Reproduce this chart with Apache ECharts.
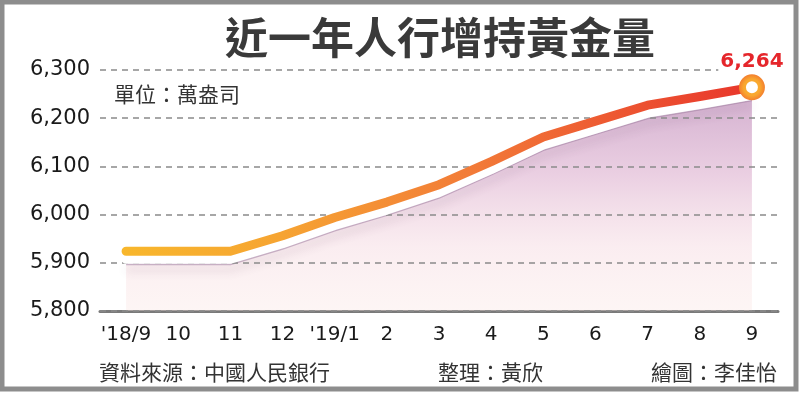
<!DOCTYPE html>
<html><head><meta charset="utf-8">
<script src="https://cdn.jsdelivr.net/npm/echarts@6/dist/echarts.min.js"></script>
<style>html,body{margin:0;padding:0;background:#fff}#c{width:800px;height:393px}</style>
</head><body><div id="c"></div>
<script>
// ---- data ----
const categories = ["'18/9","10","11","12","'19/1","2","3","4","5","6","7","8","9"];
const goldReserves = [5924,5924,5924,5956,5994,6026,6062,6110,6161,6194,6227,6245,6264];
const yMin = 5800, yMax = 6300, yStep = 100;
const titleText = '近一年人行增持黃金量';
const unitText = '單位：萬盎司';
const sourceText = '資料來源：中國人民銀行';
const editorText = '整理：黃欣';
const artistText = '繪圖：李佳怡';

// ---- styling ----
const areaShift = 27; // decorative downward offset of the shaded area (axis units)
const cjk = '"Noto Sans CJK TC","Noto Sans CJK SC",sans-serif';
const num = '"DejaVu Sans",sans-serif';
const last = goldReserves.length - 1;

const lineData = goldReserves.map((v, i) => i === last ? {
  value: v,
  symbol: 'circle',
  symbolSize: 19,
  itemStyle: {
    color: '#ffffff',
    borderWidth: 7,
    borderColor: new echarts.graphic.RadialGradient(0.5, 0.5, 0.7, [
      {offset: 0, color: '#f9ad2f'}, {offset: 0.45, color: '#f9a82f'},
      {offset: 0.72, color: '#f37e2e'}, {offset: 1, color: '#e94527'}
    ])
  },
  label: {
    show: true, position: 'top', distance: 2,
    formatter: p => p.value.toLocaleString('en-US'),
    color: '#e5262b', fontFamily: num, fontWeight: 'bold', fontSize: 20,
    backgroundColor: '#fff', padding: [1, 2]
  }
} : v);

const chart = echarts.init(document.getElementById('c'), null, {renderer: 'canvas'});
chart.setOption({
  animation: false,
  backgroundColor: '#fff',
  grid: {left: 100, right: 22, top: 70, bottom: 82},
  xAxis: {
    type: 'category', data: categories, boundaryGap: true,
    axisLine: {lineStyle: {color: '#7a7a7a', width: 3}},
    axisTick: {alignWithLabel: true, interval: 0, length: 7, lineStyle: {color: '#7a7a7a', width: 2}},
    axisLabel: {interval: 0, color: '#1a1a1a', fontFamily: num, fontSize: 20, margin: 14}
  },
  yAxis: [{
    type: 'value', min: yMin, max: yMax, interval: yStep, z: 2,
    axisLine: {show: false}, axisTick: {show: false},
    axisLabel: {color: '#1a1a1a', fontFamily: num, fontSize: 21, margin: 10,
      formatter: v => v.toLocaleString('en-US')},
    splitLine: {lineStyle: {color: '#8a8a8a', type: [6, 5], width: 1.5}}
  }, {
    type: 'value', min: yMin + areaShift, max: yMax + areaShift, show: false,
    splitLine: {show: false}
  }],
  series: [{
    type: 'line', yAxisIndex: 1, data: goldReserves, symbol: 'none', z: 1,
    lineStyle: {color: 'rgba(160,125,160,0.55)', width: 2, shadowBlur: 10, shadowColor: 'rgba(90,60,90,0.55)', shadowOffsetY: 5},
    areaStyle: {
      color: new echarts.graphic.LinearGradient(0, 0, 0, 1, [
        {offset: 0, color: 'rgba(192,140,186,0.95)'},
        {offset: 0.35, color: 'rgba(220,174,206,0.85)'},
        {offset: 0.7, color: 'rgba(244,212,220,0.6)'},
        {offset: 1, color: 'rgba(250,228,225,0.5)'}
      ])
    }
  }, {
    type: 'line', data: lineData, symbol: 'none', z: 5,
    lineStyle: {
      width: 9, cap: 'round', join: 'round',
      color: new echarts.graphic.LinearGradient(0, 0, 1, 0, [
        {offset: 0, color: '#f8b72c'},
        {offset: 0.25, color: '#f6a432'},
        {offset: 0.55, color: '#f27b38'},
        {offset: 1, color: '#e8352b'}
      ]),
      shadowColor: '#ffffff', shadowOffsetY: 8, shadowBlur: 0
    }
  }],
  graphic: [
    {type: 'rect', z: 100, shape: {x: 2, y: 2, width: 794, height: 387},
     style: {fill: 'none', stroke: '#8d8d8d', lineWidth: 5}},
    {type: 'text', z: 50, x: 440, y: 38,
     style: {text: titleText, fontFamily: cjk, fontWeight: 'bold', fontSize: 43, fill: '#3a3a3a',
       textAlign: 'center', textVerticalAlign: 'middle'}},
    {type: 'text', z: 50, x: 114, y: 94,
     style: {text: unitText, fontFamily: cjk, fontSize: 21, fill: '#333', textAlign: 'left', textVerticalAlign: 'middle'}},
    {type: 'text', z: 50, x: 99, y: 372,
     style: {text: sourceText, fontFamily: cjk, fontSize: 21, fill: '#333', textAlign: 'left', textVerticalAlign: 'middle'}},
    {type: 'text', z: 50, x: 438, y: 372,
     style: {text: editorText, fontFamily: cjk, fontSize: 21, fill: '#333', textAlign: 'left', textVerticalAlign: 'middle'}},
    {type: 'text', z: 50, x: 777, y: 372,
     style: {text: artistText, fontFamily: cjk, fontSize: 21, fill: '#333', textAlign: 'right', textVerticalAlign: 'middle'}}
  ]
});
</script>
</body></html>
